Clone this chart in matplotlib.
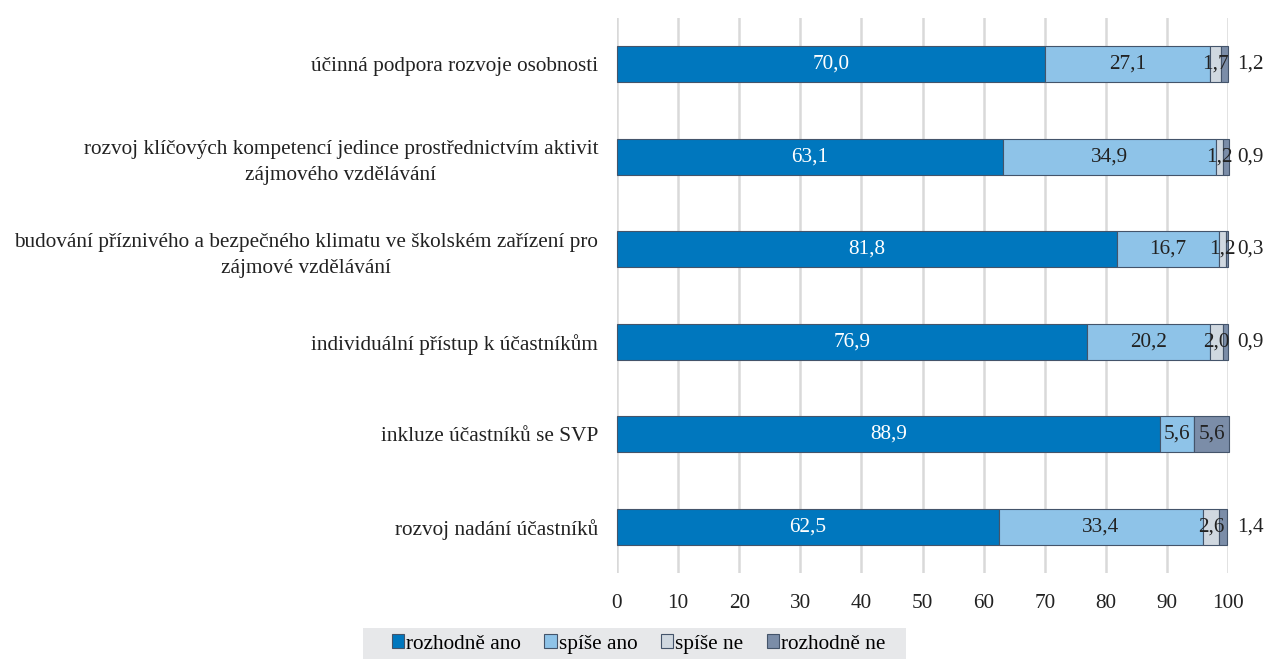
import matplotlib
matplotlib.use("Agg")
import matplotlib.pyplot as plt
from matplotlib.patches import Rectangle, Patch

categories = [
    "účinná podpora rozvoje osobnosti",
    "rozvoj klíčových kompetencí jedince prostřednictvím aktivit\nzájmového vzdělávání",
    "budování příznivého a bezpečného klimatu ve školském zařízení pro\nzájmové vzdělávání",
    "individuální přístup k účastníkům",
    "inkluze účastníků se SVP",
    "rozvoj nadání účastníků",
]
series_names = ["rozhodně ano", "spíše ano", "spíše ne", "rozhodně ne"]
rozhodne_ano = [70.0, 63.1, 81.8, 76.9, 88.9, 62.5]
spise_ano = [27.1, 34.9, 16.7, 20.2, 5.6, 33.4]
spise_ne = [1.7, 1.2, 1.2, 2.0, 0.0, 2.6]
rozhodne_ne = [1.2, 0.9, 0.3, 0.9, 5.6, 1.4]
xticks = [0, 10, 20, 30, 40, 50, 60, 70, 80, 90, 100]

colors = ["#0077BE", "#8EC3E8", "#D0D8E0", "#7B8DA8"]
text_colors = ["white", "#222222", "#222222", "#222222"]
edge = "#44546A"

plt.rcParams['font.family'] = ['Liberation Serif', 'DejaVu Serif']

fig = plt.figure(figsize=(12.66, 6.59), dpi=100)
ax = fig.add_axes([617/1266, (659-573)/659, 611/1266, 555/659])

n = len(categories)
ypos = list(range(n))
series = [rozhodne_ano, spise_ano, spise_ne, rozhodne_ne]
left = [0.0]*n
fs = 15.3
for si, vals in enumerate(series):
    ax.barh(ypos, vals, left=left, height=0.39, color=colors[si],
            edgecolor=edge, linewidth=0.8, zorder=3, clip_on=False,
            label=series_names[si])
    for i, v in enumerate(vals):
        if v <= 0:
            continue
        lab = f"{v:.1f}".replace(".", ",")
        if si == 3 and v < 3:
            ax.text(101.5, ypos[i], lab, ha="left", va="center",
                    fontsize=fs, color="#222222", zorder=5, clip_on=False)
        else:
            ax.text(left[i] + v/2, ypos[i], lab, ha="center", va="center",
                    fontsize=fs, color=text_colors[si], zorder=5, clip_on=False)
    left = [l + v for l, v in zip(left, vals)]

ax.set_xlim(0, 100)
ax.set_ylim(n - 0.5, -0.5)
ax.set_xticks(xticks)
ax.set_xticklabels([str(t) for t in xticks], fontsize=fs, color="#222222")
ax.set_yticks(ypos)
ax.set_yticklabels(categories, fontsize=fs, color="#222222",
                   multialignment="center", linespacing=1.5)
ax.tick_params(axis="both", length=0)
ax.tick_params(axis="x", pad=15)
ax.tick_params(axis="y", pad=13.5)
for s in ax.spines.values():
    s.set_visible(False)
ax.grid(axis="x", color="#D9D9D9", linewidth=1.8, zorder=0)
ax.set_axisbelow(True)

# legend background
fig.patches.append(Rectangle((363/1266, 0), (906-363)/1266, 31/659,
                             transform=fig.transFigure, facecolor="#E7E8EA",
                             edgecolor="none", zorder=0))
handles = [Patch(facecolor=colors[i], edgecolor=edge, linewidth=0.8) for i in range(4)]
fig.legend(handles, series_names, loc="center", bbox_to_anchor=(638.5/1266, 15/659),
           ncol=4, frameon=False, fontsize=fs, handlelength=0.6, handleheight=0.6,
           handletextpad=0.08, columnspacing=1.1, borderpad=0, borderaxespad=0)

fig.savefig("out.png", dpi=100)
